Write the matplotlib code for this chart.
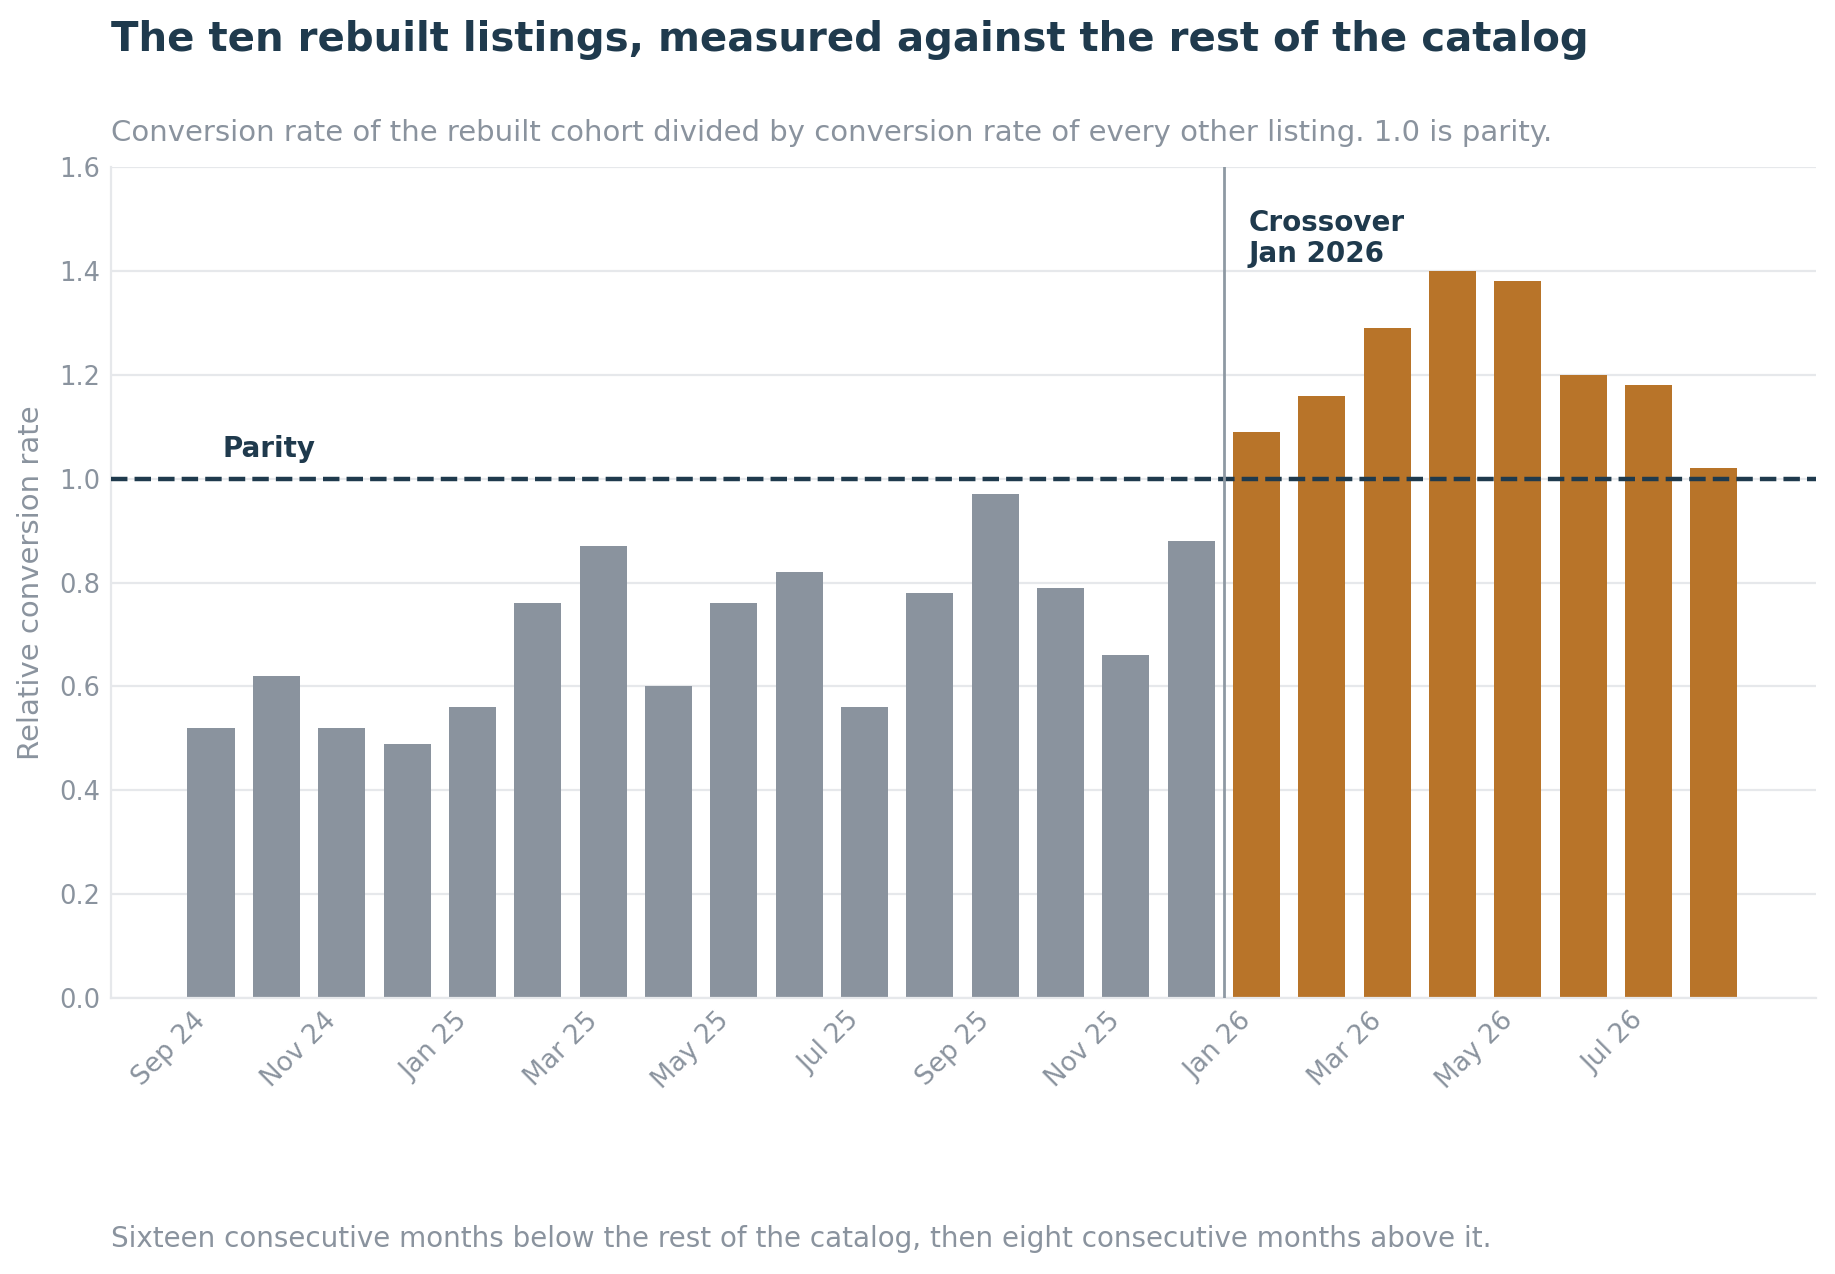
import matplotlib
matplotlib.use("Agg")
import matplotlib.pyplot as plt

# Data
months = ["Sep 24", "Oct 24", "Nov 24", "Dec 24", "Jan 25", "Feb 25", "Mar 25", "Apr 25",
          "May 25", "Jun 25", "Jul 25", "Aug 25", "Sep 25", "Oct 25", "Nov 25", "Dec 25",
          "Jan 26", "Feb 26", "Mar 26", "Apr 26", "May 26", "Jun 26", "Jul 26", "Aug 26"]
below = [0.52, 0.62, 0.52, 0.49, 0.56, 0.76, 0.87, 0.60,
         0.76, 0.82, 0.56, 0.78, 0.97, 0.79, 0.66, 0.88]
above = [1.09, 1.16, 1.29, 1.40, 1.38, 1.20, 1.18, 1.02]
y_ticks = [0.0, 0.2, 0.4, 0.6, 0.8, 1.0, 1.2, 1.4, 1.6]

NAVY = "#1f3a4d"
GREY = "#8a939e"
ORANGE = "#b87429"
GRID = "#e6e8eb"

fig = plt.figure(figsize=(18.35, 12.74), dpi=100)
ax = fig.add_axes([0.0605, 0.2166, 0.9291, 0.6523])

values = below + above
colors = [GREY] * len(below) + [ORANGE] * len(above)
x = list(range(len(values)))
ax.bar(x, values, width=0.72, color=colors, linewidth=0, zorder=2)

# parity line and crossover marker
ax.axhline(1.0, color=NAVY, lw=3.2, ls="--", zorder=3)
cross = len(below) - 0.5
ax.axvline(cross, color="#8e99a3", lw=2, zorder=3)
ax.text(0.17, 1.03, "Parity", color=NAVY, fontsize=20, fontweight="bold", va="bottom", ha="left")
ax.text(cross + 0.38, 1.52, "Crossover\nJan 2026", color=NAVY, fontsize=20,
        fontweight="bold", va="top", ha="left", linespacing=1.15)

ax.set_xlim(-1.53, 24.56)
ax.set_ylim(0, 1.6)
ax.set_yticks(y_ticks)
ax.set_yticklabels([f"{t:.1f}" for t in y_ticks])
ax.set_xticks(x[::2])
ax.set_xticklabels(months[::2], rotation=45, ha="right")

ax.grid(axis="y", color=GRID, lw=1.6, zorder=0)
ax.set_axisbelow(True)
for s in ["top", "right"]:
    ax.spines[s].set_visible(False)
for s in ["left", "bottom"]:
    ax.spines[s].set_color(GRID)
    ax.spines[s].set_linewidth(1.6)
ax.tick_params(axis="both", length=0, labelcolor=GREY)
ax.tick_params(axis="x", labelsize=19, pad=7)
ax.tick_params(axis="y", labelsize=18.5, pad=8)
ax.set_ylabel("Relative conversion rate", fontsize=21, color=GREY, labelpad=10)

fig.text(0.0605, 1 - 20 / 1274, "The ten rebuilt listings, measured against the rest of the catalog",
         fontsize=29, fontweight="bold", color=NAVY, va="top", ha="left")
fig.text(0.0605, 1 - 119 / 1274,
         "Conversion rate of the rebuilt cohort divided by conversion rate of every other listing. 1.0 is parity.",
         fontsize=21, color=GREY, va="top", ha="left")
fig.text(0.0605, 1 - 1225 / 1274,
         "Sixteen consecutive months below the rest of the catalog, then eight consecutive months above it.",
         fontsize=20, color=GREY, va="top", ha="left")

fig.savefig("out.png", dpi=100, facecolor="white")
